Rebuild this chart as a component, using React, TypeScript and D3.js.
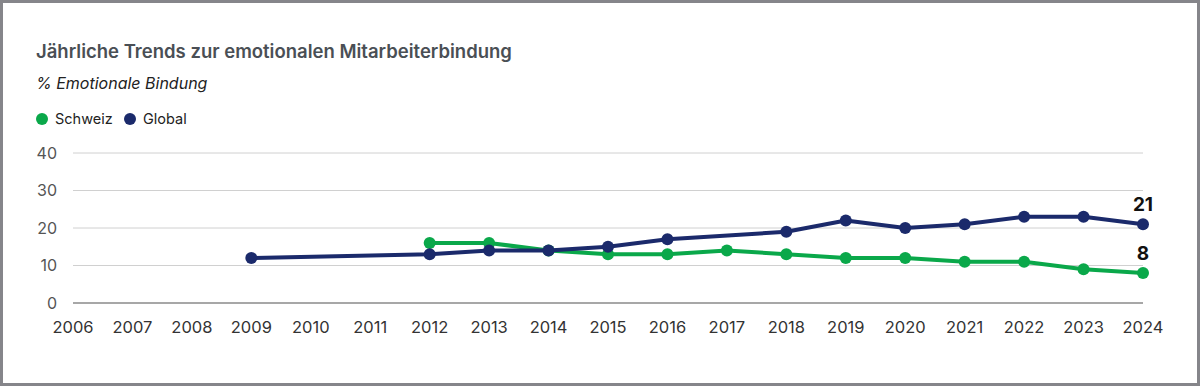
import React, { useEffect, useRef } from 'react';
import * as d3 from 'd3';

const years = d3.range(2006, 2025);
const yTicks = [0, 10, 20, 30, 40];

const schweizYears = [2012, 2013, 2014, 2015, 2016, 2017, 2018, 2019, 2020, 2021, 2022, 2023, 2024];
const schweizValues = [16, 16, 14, 13, 13, 14, 13, 12, 12, 11, 11, 9, 8];

const globalYears = [2009, 2012, 2013, 2014, 2015, 2016, 2018, 2019, 2020, 2021, 2022, 2023, 2024];
const globalValues = [12, 13, 14, 14, 15, 17, 19, 22, 20, 21, 23, 23, 21];

const GREEN = '#0aa84a';
const NAVY = '#1b2a6b';

interface Pt { year: number; value: number }

const App: React.FC = () => {
  const svgRef = useRef<SVGSVGElement>(null);

  useEffect(() => {
    if (!svgRef.current) return;
    const svg = d3.select(svgRef.current);
    svg.selectAll('*').remove();

    const width = 1200;
    const height = 386;
    const margin = { top: 153, right: 57, bottom: 83, left: 73 };
    const font = 'Inter, "Noto Sans", sans-serif';

    svg.append('rect')
      .attr('x', 1.5).attr('y', 1.5)
      .attr('width', width - 3).attr('height', height - 3)
      .attr('fill', '#fff')
      .attr('stroke', '#85858a')
      .attr('stroke-width', 3);

    const x = d3.scaleLinear()
      .domain([2006, 2024])
      .range([margin.left, width - margin.right]);
    const y = d3.scaleLinear()
      .domain([0, 40])
      .range([height - margin.bottom, margin.top]);

    // Title block
    svg.append('text')
      .attr('x', 36).attr('y', 58)
      .attr('font-family', font).attr('font-size', 18.5).attr('font-weight', 600)
      .attr('fill', '#4a4f55')
      .text('Jährliche Trends zur emotionalen Mitarbeiterbindung');
    svg.append('text')
      .attr('x', 36).attr('y', 89)
      .attr('font-family', font).attr('font-size', 16).attr('font-style', 'italic')
      .attr('fill', '#222')
      .text('% Emotionale Bindung');

    // Legend
    const legend = [
      { label: 'Schweiz', color: GREEN, x: 42 },
      { label: 'Global', color: NAVY, x: 130 },
    ];
    const lg = svg.append('g');
    lg.selectAll('circle')
      .data(legend)
      .enter()
      .append('circle')
      .attr('cx', d => d.x).attr('cy', 119).attr('r', 6)
      .attr('fill', d => d.color);
    lg.selectAll('text')
      .data(legend)
      .enter()
      .append('text')
      .attr('x', d => d.x + 13).attr('y', 124)
      .attr('font-family', font).attr('font-size', 14.5)
      .attr('fill', '#222')
      .text(d => d.label);

    // Grid
    svg.append('g')
      .selectAll('line')
      .data(yTicks)
      .enter()
      .append('line')
      .attr('x1', margin.left).attr('x2', width - margin.right)
      .attr('y1', d => y(d)).attr('y2', d => y(d))
      .attr('stroke', d => (d === 0 ? '#8a8a8a' : '#d0d0d0'))
      .attr('stroke-width', d => (d === 0 ? 1.5 : 1));

    // Y axis labels
    svg.append('g')
      .selectAll('text')
      .data(yTicks)
      .enter()
      .append('text')
      .attr('x', 57).attr('y', d => y(d))
      .attr('dy', '0.35em')
      .attr('text-anchor', 'end')
      .attr('font-family', font).attr('font-size', 16)
      .attr('fill', '#555')
      .text(d => d);

    // X axis labels
    svg.append('g')
      .selectAll('text')
      .data(years)
      .enter()
      .append('text')
      .attr('x', d => x(d)).attr('y', 333)
      .attr('text-anchor', 'middle')
      .attr('font-family', font).attr('font-size', 16.5)
      .attr('fill', '#333')
      .text(d => d);

    const line = d3.line<Pt>()
      .x(d => x(d.year))
      .y(d => y(d.value));

    const series = [
      { name: 'Schweiz', color: GREEN, data: schweizYears.map((yr, i) => ({ year: yr, value: schweizValues[i] })) },
      { name: 'Global', color: NAVY, data: globalYears.map((yr, i) => ({ year: yr, value: globalValues[i] })) },
    ];

    series.forEach(s => {
      const g = svg.append('g');
      g.append('path')
        .datum(s.data)
        .attr('fill', 'none')
        .attr('stroke', s.color)
        .attr('stroke-width', 4)
        .attr('stroke-linejoin', 'round')
        .attr('d', line);
      g.selectAll('circle')
        .data(s.data)
        .enter()
        .append('circle')
        .attr('cx', d => x(d.year))
        .attr('cy', d => y(d.value))
        .attr('r', 6)
        .attr('fill', s.color);
      const last = s.data[s.data.length - 1];
      g.append('text')
        .attr('x', x(last.year)).attr('y', y(last.value) - 13)
        .attr('text-anchor', 'middle')
        .attr('font-family', font).attr('font-size', 19).attr('font-weight', 700)
        .attr('fill', '#111')
        .text(last.value);
    });
  }, []);

  return (
    <svg
      ref={svgRef}
      width={1200}
      height={386}
      style={{ display: 'block', position: 'absolute', left: 0, top: 0 }}
    />
  );
};

export default App;
